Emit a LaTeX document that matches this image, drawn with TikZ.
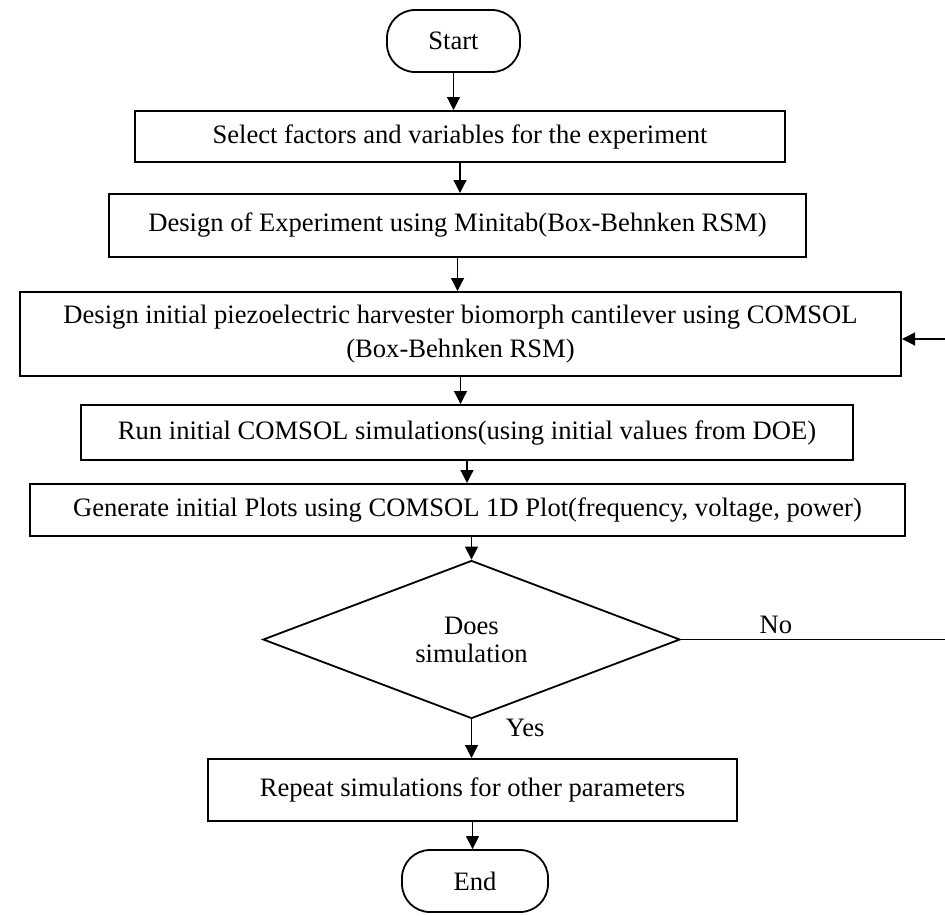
\documentclass[tikz,border=0pt]{standalone}
\usepackage{fontspec}
\setmainfont{Liberation Serif}
\usetikzlibrary{arrows.meta,positioning,shapes.geometric}

\begin{document}
\begin{tikzpicture}[x=0.5pt, y=-0.5pt,
  procbox/.style={rectangle, draw, line width=1pt, align=center, inner sep=2pt,
    font=\fontsize{13.3}{17}\selectfont},
  termbox/.style={rectangle, rounded corners=14pt, draw, line width=0.9pt, align=center,
    inner sep=2pt, font=\fontsize{13.3}{16}\selectfont},
  decision/.style={diamond, draw, line width=0.9pt, align=center, inner sep=0pt,
    font=\fontsize{13.3}{14}\selectfont},
  flow/.style={->, line width=0.6pt},
  >={Triangle[length=6.5pt, width=6.5pt]}
]
\useasboundingbox (0,0) rectangle (945,915);

% Terminals, process boxes and the check, top to bottom
\node[termbox, minimum width=66.5pt, minimum height=31pt] (start) at (453.5,41) {Start};
\node[procbox, minimum width=325pt, minimum height=25.5pt] (select) at (460,136.5)
  {Select factors and variables for the experiment};
\node[procbox, minimum width=348.5pt, minimum height=31.5pt] (doe) at (457.5,225.5)
  {Design of Experiment using Minitab(Box-Behnken RSM)};
\node[procbox, minimum width=440.5pt, minimum height=42pt] (design) at (460.5,334)
  {Design initial piezoelectric harvester biomorph cantilever using COMSOL\\(Box-Behnken RSM)};
\node[procbox, minimum width=386pt, minimum height=27.5pt] (run) at (467,432.5)
  {Run initial COMSOL simulations(using initial values from DOE)};
\node[procbox, minimum width=437.5pt, minimum height=26pt] (plots) at (467.5,510)
  {Generate initial Plots using COMSOL 1D Plot(frequency, voltage, power)};
\node[decision, minimum width=208.5pt, minimum height=77.5pt] (check) at (471.5,639.5)
  {Does\\simulation};
\node[procbox, minimum width=264.5pt, minimum height=31pt] (repeat) at (472.5,790)
  {Repeat simulations for other parameters};
\node[termbox, minimum width=73pt, minimum height=31pt] (end) at (475,881) {End};

% Loose ends of the feedback path at the right border
\coordinate (noend) at (945,639.5);
\coordinate (loopin) at (945,339);

% Main flow
\draw[flow] (start.south) -- (start.south |- select.north);
\draw[flow] (select.south) -- (select.south |- doe.north);
\draw[flow] (doe.south) -- (doe.south |- design.north);
\draw[flow] (design.south) -- (design.south |- run.north);
\draw[flow] (run.south) -- (run.south |- plots.north);
\draw[flow] (check.north |- plots.south) -- (check.north);
\draw[flow] (check.south) -- node[right=13.5pt, pos=0.22, font=\fontsize{13.3}{16}\selectfont] {Yes}
  (check.south |- repeat.north);
\draw[flow] (repeat.south) -- (repeat.south |- end.north);

% Feedback path
\draw[line width=0.6pt] (check.east) -- node[above=-1pt, pos=0.36, font=\fontsize{13.3}{16}\selectfont] {No} (noend);
\draw[flow] (loopin) -- (design.east |- loopin);
\end{tikzpicture}
\end{document}
